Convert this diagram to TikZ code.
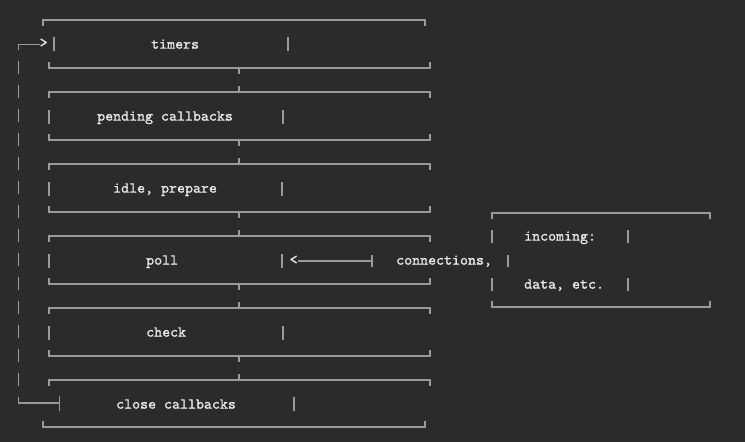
\documentclass[tikz,border=0pt]{standalone}
\usepackage{fontspec}
\newfontfamily\artfont{lmmono10-regular.otf}[FakeBold=1.2]
\definecolor{bgc}{HTML}{2B2B2B}
\definecolor{linec}{HTML}{9A9A9A}
\definecolor{txtc}{HTML}{E8E8E8}
\tikzset{
  art/.style={draw=linec, line width=1.2pt},
  lbl/.style={text=txtc, font=\artfont\fontsize{15.2}{16}\selectfont, inner sep=0pt, anchor=mid west},
}
\begin{document}
\begin{tikzpicture}[x=1pt,y=-1pt]
\useasboundingbox[fill=bgc] (0,0) rectangle (745,442);

% ---- timers box ----
\draw[art] (43,26) -- (43,20) -- (425,20) -- (425,26);
\draw[art] (54,37) -- (54,51);
\draw[art] (288,37) -- (288,51);
\node[lbl] (timers) at (151,46.5) {timers};
\draw[art] (49,62) -- (49,68) -- (430,68) -- (430,62);
\draw[art] (239,68) -- (239,74);

% ---- middle boxes ----
\foreach \c/\r in {117/283,189/282,261/282,333/283}{
  \draw[art] (239,\c-31) -- (239,\c-25);
  \draw[art] (49,\c-19) -- (49,\c-25) -- (430,\c-25) -- (430,\c-19);
  \draw[art] (49,\c-7) -- (49,\c+7);
  \draw[art] (\r,\c-7) -- (\r,\c+7);
  \draw[art] (49,\c+17) -- (49,\c+23) -- (430,\c+23) -- (430,\c+17);
  \draw[art] (239,\c+23) -- (239,\c+29);
}
\node[lbl] (pending) at (97,118.5) {pending callbacks};
\node[lbl] (idle) at (113,190.5) {idle, prepare};
\node[lbl] (poll) at (146,262.5) {poll};
\node[lbl] (check) at (146,334.5) {check};

% ---- close callbacks box ----
\draw[art] (239,374) -- (239,380);
\draw[art] (49,386) -- (49,380) -- (430,380) -- (430,386);
\draw[art] (294,397) -- (294,411);
\node[lbl] (close) at (116,406.5) {close callbacks};
\draw[art] (43,421) -- (43,427) -- (425,427) -- (425,421);

% ---- loop back line ----
\coordinate (loopTop) at (18.7,44.5);
\coordinate (loopBot) at (18.7,403);
\coordinate (closeIn) at (59.7,403);
\draw[art] (18.7,50) -- (loopTop) -- (40,44.5);
\node[lbl] (gt) at (39.5,45) {>};
\foreach \k in {0,...,13}{
  \draw[art] (18.7,61+24*\k) -- (18.7,74+24*\k);
}
\draw[art] (18.7,397) -- (loopBot) -- (closeIn);
\draw[art] (59.7,396) -- (59.7,411);

% ---- poll input arrow ----
\node[lbl] (lt) at (289.5,262) {<};
\coordinate (arrEnd) at (372,261);
\draw[art] (298,261) -- (arrEnd);
\draw[art] (372,255) -- (372,267);
\node[lbl] (conn) at (396,262.5) {connections,};
\draw[art] (508,255) -- (508,267);

% ---- incoming box ----
\draw[art] (492,219) -- (492,213) -- (710,213) -- (710,219);
\draw[art] (492,230) -- (492,243);
\draw[art] (628,230) -- (628,243);
\node[lbl] (incoming) at (524,238.5) {incoming:};
\draw[art] (492,278) -- (492,291);
\draw[art] (628,278) -- (628,291);
\node[lbl] (data) at (524,286.5) {data, etc.};
\draw[art] (492,301) -- (492,307) -- (710,307) -- (710,301);
\end{tikzpicture}
\end{document}
